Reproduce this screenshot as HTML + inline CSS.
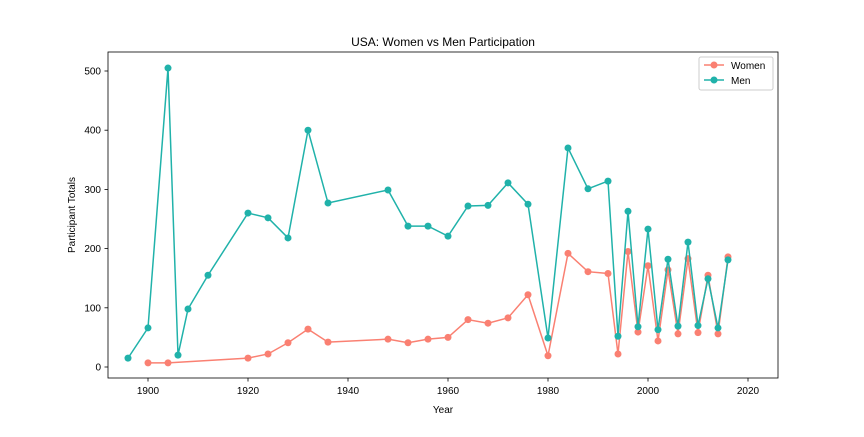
<!DOCTYPE html>
<html><head><meta charset="utf-8"><style>
body{margin:0;background:#fff;font-family:"Liberation Sans","DejaVu Sans",sans-serif;}
svg text{font-family:"Liberation Sans","DejaVu Sans",sans-serif;fill:#000;}
</style></head><body>
<svg id="chart" width="864" height="432">
<rect x="0" y="0" width="864" height="432" fill="#fff"/>
<text x="443" y="46" font-size="12" text-anchor="middle">USA: Women vs Men Participation</text>
<g id="axes"></g>
<g id="series"></g>
<text x="443" y="413" font-size="10" text-anchor="middle">Year</text>
<text transform="translate(75,215) rotate(-90)" font-size="10" text-anchor="middle">Participant Totals</text>
<rect x="108" y="52" width="670" height="326" fill="none" stroke="#000" stroke-width="0.8"/>
<g>
<rect x="699" y="57" width="74" height="33" fill="#fff" stroke="#ccc" rx="2"/>
<g>
<line x1="704" y1="65" x2="724" y2="65" stroke="#fa8072" stroke-width="1.5"/><circle cx="714" cy="65" r="3.5" fill="#fa8072"/>
<text x="731" y="69" font-size="10">Women</text></g>
<g>
<line x1="704" y1="80" x2="724" y2="80" stroke="#20b2aa" stroke-width="1.5"/><circle cx="714" cy="80" r="3.5" fill="#20b2aa"/>
<text x="731" y="84" font-size="10">Men</text></g>
</g>
</svg>
<script>
const menYears=[1896,1900,1904,1906,1908,1912,1920,1924,1928,1932,1936,1948,1952,1956,1960,1964,1968,1972,1976,1980,1984,1988,1992,1994,1996,1998,2000,2002,2004,2006,2008,2010,2012,2014,2016];
const menValues=[15,66,505,20,98,155,260,252,218,400,277,299,238,238,221,272,273,311,275,49,370,301,314,52,263,68,233,63,182,69,211,70,149,66,181];
const womenYears=[1900,1904,1920,1924,1928,1932,1936,1948,1952,1956,1960,1964,1968,1972,1976,1980,1984,1988,1992,1994,1996,1998,2000,2002,2004,2006,2008,2010,2012,2014,2016];
const womenValues=[7,7,15,22,41,64,42,47,41,47,50,80,74,83,122,19,192,161,158,22,195,59,171,44,164,56,183,58,155,56,186];
const xTicks=[1900,1920,1940,1960,1980,2000,2020];
const yTicks=[0,100,200,300,400,500];
const NS="http://www.w3.org/2000/svg";
const xs=v=>148+(v-1900)*5;
const ys=v=>367-v*0.592;
const axes=document.getElementById('axes'),ser=document.getElementById('series');
function mk(t,a,p){const e=document.createElementNS(NS,t);for(const k in a)e.setAttribute(k,a[k]);p.appendChild(e);return e;}
xTicks.forEach(t=>{
 const l=mk('line',{x1:xs(t),x2:xs(t),y1:378,y2:381.5,stroke:'#000','stroke-width':0.8},axes);
 
 
 const tx=mk('text',{x:xs(t),y:394,'font-size':10,'text-anchor':'middle'},axes);tx.textContent=t;
 
 
});
yTicks.forEach(t=>{
 const l=mk('line',{x1:104.5,x2:108,y1:ys(t),y2:ys(t),stroke:'#000','stroke-width':0.8},axes);
 
 
 const tx=mk('text',{x:101,y:ys(t)+3.5,'font-size':10,'text-anchor':'end'},axes);tx.textContent=t;
 
 
});
function draw(yrs,vals,color,name){
 const g=mk('g',{},ser);
 
 
 const pl=mk('polyline',{points:yrs.map((y,i)=>xs(y)+','+ys(vals[i])).join(' '),fill:'none',stroke:color,'stroke-width':1.5},g);
 
 
 yrs.forEach((y,i)=>{const c=mk('circle',{cx:xs(y),cy:ys(vals[i]),r:3.5,fill:color},g);
  
  });
}
draw(womenYears,womenValues,'#fa8072','women');
draw(menYears,menValues,'#20b2aa','men');
</script>
</body></html>
